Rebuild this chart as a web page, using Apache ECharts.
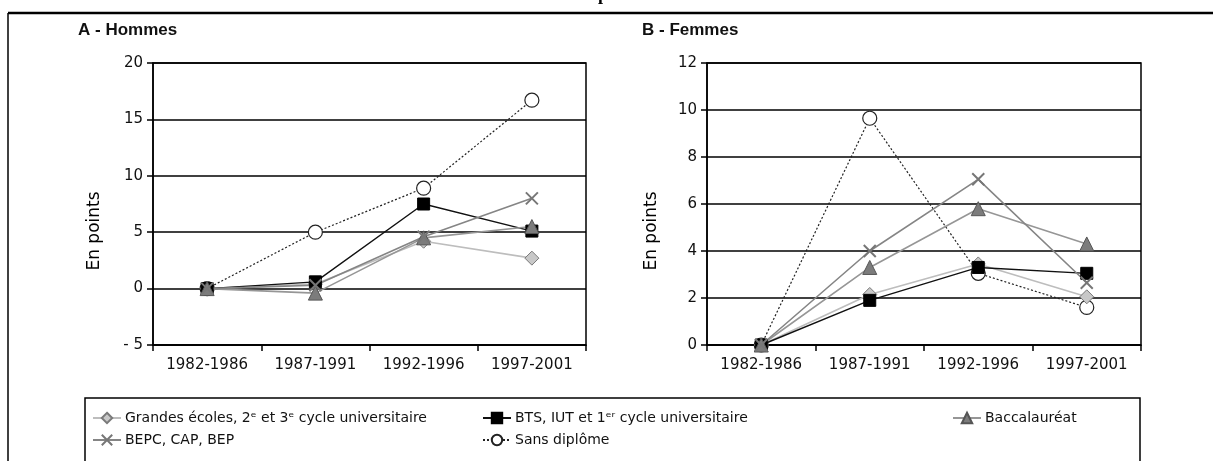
<!DOCTYPE html>
<html>
<head>
<meta charset="utf-8">
<script src="https://cdn.jsdelivr.net/npm/echarts@6/dist/echarts.min.js"></script>
<style>
  html, body { margin: 0; padding: 0; background: #fff; }
  #main { width: 1213px; height: 461px; }
</style>
</head>
<body>
<div id="main"></div>
<script>
// periodes
var periods = ['1982-1986', '1987-1991', '1992-1996', '1997-2001'];

// A - Hommes
var hGrandes = [0, 0.4, 4.2, 2.7];
var hBts     = [0, 0.6, 7.5, 5.1];
var hBac     = [0, -0.4, 4.5, 5.5];
var hBepc    = [0, 0.3, 4.6, 8.0];
var hSans    = [0, 5.0, 8.9, 16.7];

// B - Femmes
var fGrandes = [0, 2.15, 3.45, 2.05];
var fBts     = [0, 1.9, 3.3, 3.05];
var fBac     = [0, 3.3, 5.8, 4.3];
var fBepc    = [0, 4.0, 7.05, 2.65];
var fSans    = [0, 9.65, 3.05, 1.6];

var names = ['Grandes écoles, 2ᵉ et 3ᵉ cycle universitaire', 'BTS, IUT et 1ᵉʳ cycle universitaire',
             'Baccalauréat', 'BEPC, CAP, BEP', 'Sans diplôme'];

var myChart = echarts.init(document.getElementById('main'));

var crossPath = 'path://M0,0L10,10M10,0L0,10';
var axisFont = 'DejaVu Sans';

// un style par diplome
var styles = [
    {symbol: 'diamond', symbolSize: 14, line: {color: '#bdbdbd', width: 1.6}, item: {color: '#c8c8c8', borderColor: '#7a7a7a', borderWidth: 1}},
    {symbol: 'rect', symbolSize: 12, line: {color: '#111', width: 1.4}, item: {color: '#000', borderColor: '#000', borderWidth: 1}},
    {symbol: 'triangle', symbolSize: 14, line: {color: '#969696', width: 1.6}, item: {color: '#7c7c7c', borderColor: '#555', borderWidth: 1}},
    {symbol: crossPath, symbolSize: 12, line: {color: '#858585', width: 1.6}, item: {color: '#777', borderColor: '#777', borderWidth: 2}},
    {symbol: 'circle', symbolSize: 14, line: {color: '#222', width: 1.2, type: [2, 2]}, item: {color: '#fff', borderColor: '#222', borderWidth: 1.2}}
];

var hData = [hGrandes, hBts, hBac, hBepc, hSans];
var fData = [fGrandes, fBts, fBac, fBepc, fSans];

var series = [];
function addSeries(data, idx) {
    for (var i = 0; i < data.length; i++) {
        series.push({
            name: names[i],
            type: 'line',
            xAxisIndex: idx,
            yAxisIndex: idx,
            data: data[i],
            symbol: styles[i].symbol,
            symbolSize: styles[i].symbolSize,
            lineStyle: styles[i].line,
            itemStyle: styles[i].item,
            z: i == 4 ? 1 : 2,   // sans diplome sous les autres
            animation: false
        });
    }
}
addSeries(hData, 0);
addSeries(fData, 1);

function yAxisOf(idx, min, max, step) {
    return {
        type: 'value',
        gridIndex: idx,
        min: min, max: max, interval: step,
        axisLine: {show: true, lineStyle: {color: '#000', width: 1.5}},
        axisTick: {show: true, inside: false, length: 6, lineStyle: {color: '#000', width: 1.5}},
        axisLabel: {
            color: '#111', fontFamily: axisFont, fontSize: 15, margin: 10,
            formatter: function (v) { return v < 0 ? '- ' + (-v) : '' + v; }
        },
        splitLine: {show: true, lineStyle: {color: '#000', width: 1.5}}
    };
}

function xAxisOf(idx) {
    return {
        type: 'category',
        gridIndex: idx,
        data: periods,
        boundaryGap: true,
        axisLine: {show: true, onZero: false, lineStyle: {color: '#000', width: 1.5}},
        axisTick: {show: true, length: 6, interval: 0, lineStyle: {color: '#000', width: 1.5}},
        axisLabel: {color: '#111', fontFamily: axisFont, fontSize: 15, margin: 13, interval: 0},
        splitLine: {show: false}
    };
}

var legendItems = [
    {i: 0, left: 92, top: 411},
    {i: 1, left: 482, top: 411},
    {i: 2, left: 952, top: 411},
    {i: 3, left: 92, top: 433},
    {i: 4, left: 482, top: 433}
];
var legends = legendItems.map(function (it) {
    return {
        data: [names[it.i]],
        left: it.left, top: it.top,
        itemWidth: 28, itemHeight: 13, itemGap: 0,
        padding: 0,
        selectedMode: false,
        textStyle: {color: '#111', fontFamily: 'DejaVu Sans', fontSize: 14, padding: [0, 0, 0, -1]}
    };
});

var option = {
    backgroundColor: '#fff',
    animation: false,
    title: [
        {text: 'A - Hommes', left: 73, top: 17, textStyle: {fontFamily: 'Liberation Sans', fontWeight: 'bold', fontSize: 17, color: '#111'}},
        {text: 'B - Femmes', left: 637, top: 17, textStyle: {fontFamily: 'Liberation Sans', fontWeight: 'bold', fontSize: 17, color: '#111'}}
    ],
    legend: legends,
    grid: [
        {left: 153, top: 63, width: 433, height: 282, show: true, borderColor: '#000', borderWidth: 1.5},
        {left: 707, top: 63, width: 434, height: 282, show: true, borderColor: '#000', borderWidth: 1.5}
    ],
    xAxis: [xAxisOf(0), xAxisOf(1)],
    yAxis: [yAxisOf(0, -5, 20, 5), yAxisOf(1, 0, 12, 2)],
    graphic: [
        // cadre exterieur
        {type: 'line', shape: {x1: 8, y1: 13, x2: 1213, y2: 13}, style: {stroke: '#000', lineWidth: 2.5}},
        {type: 'line', shape: {x1: 8, y1: 13, x2: 8, y2: 461}, style: {stroke: '#000', lineWidth: 1.5}},
        // cadre legende
        {type: 'rect', shape: {x: 85, y: 398, width: 1055, height: 80}, style: {fill: null, stroke: '#000', lineWidth: 1.5}},
        // titre coupe en haut
        {type: 'text', x: 598, y: -14, style: {text: 'p', font: 'bold 18px "Liberation Serif"', fill: '#000'}},
        {type: 'text', x: 95, y: 231, rotation: Math.PI / 2, style: {text: 'En points', font: '17px "DejaVu Sans"', fill: '#000', align: 'center', verticalAlign: 'middle'}},
        {type: 'text', x: 652, y: 231, rotation: Math.PI / 2, style: {text: 'En points', font: '17px "DejaVu Sans"', fill: '#000', align: 'center', verticalAlign: 'middle'}}
    ],
    series: series
};

myChart.setOption(option);
</script>
</body>
</html>
